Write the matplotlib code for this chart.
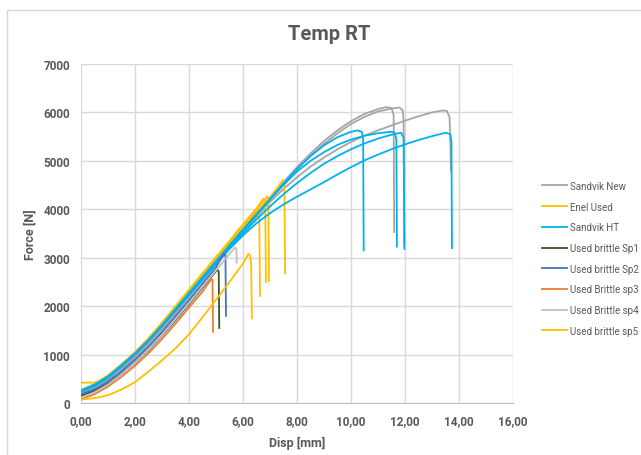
import matplotlib
matplotlib.use('Agg')
import matplotlib.pyplot as plt
from matplotlib.patches import Rectangle
from matplotlib.ticker import FuncFormatter, MultipleLocator

plt.rcParams['font.family'] = ['Roboto', 'DejaVu Sans']

# Disp [mm] / Force [N]
sandvik_new_disp = [
    [0, 0.5, 1, 1.5, 2, 2.5, 3, 3.5, 4, 4.5, 5, 5.5, 6, 6.5, 7, 7.5, 8, 8.5, 9, 9.5,
     10, 10.5, 11, 11.3, 11.5, 11.58, 11.6],
    [0, 0.5, 1, 1.5, 2, 2.5, 3, 3.5, 4, 4.5, 5, 5.5, 6, 6.5, 7, 7.5, 8, 8.5, 9, 9.5,
     10, 10.5, 11, 11.5, 11.8, 11.92, 11.95, 11.97],
    [0, 0.5, 1, 1.5, 2, 2.5, 3, 3.5, 4, 4.5, 5, 5.5, 6, 6.5, 7, 7.5, 8, 8.5, 9, 9.5,
     10, 10.5, 11, 11.5, 12, 12.5, 13, 13.4, 13.55, 13.65, 13.68, 13.7],
]
sandvik_new_force = [
    [200, 310, 470, 690, 940, 1220, 1540, 1870, 2210, 2550, 2890, 3230, 3570, 3900,
     4230, 4560, 4870, 5150, 5410, 5630, 5820, 5970, 6070, 6110, 6090, 5950, 3530],
    [220, 330, 490, 710, 960, 1240, 1550, 1880, 2220, 2560, 2900, 3240, 3570, 3890,
     4210, 4530, 4830, 5100, 5350, 5570, 5760, 5910, 6020, 6080, 6100, 6040, 5800, 3250],
    [180, 290, 450, 670, 920, 1200, 1510, 1840, 2180, 2520, 2860, 3190, 3520, 3840,
     4150, 4420, 4660, 4880, 5070, 5240, 5390, 5520, 5630, 5730, 5830, 5920, 6000,
     6040, 6030, 5900, 5400, 4800],
]

enel_used_disp = [
    [0, 0.45, 0.6, 1, 1.5, 2, 2.5, 3, 3.5, 4, 4.5, 5, 5.5, 6, 6.4, 6.55, 6.6, 6.63],
    [0, 0.5, 1, 1.5, 2, 2.5, 3, 3.5, 4, 4.5, 5, 5.5, 6, 6.5, 6.75, 6.82, 6.85],
    [0, 0.5, 1, 1.5, 2, 2.5, 3, 3.5, 4, 4.5, 5, 5.5, 6, 6.5, 6.75, 6.9, 6.94, 6.96],
    [0, 0.5, 1, 1.5, 2, 2.5, 3, 3.5, 4, 4.5, 5, 5.5, 6, 6.5, 7, 7.3, 7.48, 7.53, 7.56],
]
enel_used_force = [
    [420, 420, 440, 560, 790, 1040, 1320, 1640, 1980, 2320, 2660, 3000, 3330, 3670,
     3930, 4020, 3980, 2210],
    [260, 380, 560, 790, 1040, 1330, 1650, 1990, 2330, 2670, 3010, 3350, 3690, 4020,
     4220, 4200, 2500],
    [270, 390, 570, 800, 1050, 1340, 1660, 2000, 2340, 2680, 3010, 3340, 3660, 3980,
     4160, 4260, 4220, 2520],
    [250, 370, 540, 770, 1020, 1300, 1610, 1940, 2280, 2620, 2960, 3290, 3610, 3940,
     4250, 4460, 4600, 4570, 2680],
]

sandvik_ht_disp = [
    [0, 0.5, 1, 1.5, 2, 2.5, 3, 3.5, 4, 4.5, 5, 5.5, 6, 6.5, 7, 7.5, 8, 8.5, 9, 9.5,
     10, 10.25, 10.4, 10.45, 10.47],
    [0, 0.5, 1, 1.5, 2, 2.5, 3, 3.5, 4, 4.5, 5, 5.5, 6, 6.5, 7, 7.5, 8, 8.5, 9, 9.5,
     10, 10.5, 11, 11.5, 11.62, 11.68, 11.7],
    [0, 0.5, 1, 1.5, 2, 2.5, 3, 3.5, 4, 4.5, 5, 5.5, 6, 6.5, 7, 7.5, 8, 8.5, 9, 9.5,
     10, 10.5, 11, 11.5, 11.85, 11.95, 11.98],
    [0, 0.5, 1, 1.5, 2, 2.5, 3, 3.5, 4, 4.5, 5, 5.5, 6, 6.5, 7, 7.5, 8, 8.5, 9, 9.5,
     10, 10.5, 11, 11.5, 12, 12.5, 13, 13.5, 13.68, 13.72, 13.74],
]
sandvik_ht_force = [
    [250, 370, 540, 770, 1020, 1300, 1610, 1940, 2270, 2600, 2930, 3260, 3580, 3900,
     4210, 4530, 4830, 5100, 5320, 5490, 5600, 5630, 5600, 5450, 3150],
    [240, 360, 530, 760, 1010, 1290, 1600, 1930, 2260, 2590, 2910, 3230, 3560, 3880,
     4200, 4500, 4780, 5000, 5180, 5330, 5440, 5520, 5570, 5600, 5580, 5450, 3230],
    [230, 350, 520, 750, 1000, 1280, 1590, 1920, 2250, 2580, 2890, 3200, 3500, 3790,
     4060, 4310, 4540, 4750, 4940, 5100, 5240, 5360, 5460, 5540, 5580, 5480, 3180],
    [260, 380, 550, 780, 1020, 1290, 1590, 1910, 2230, 2550, 2870, 3180, 3460, 3710,
     3920, 4100, 4260, 4410, 4560, 4720, 4870, 5010, 5130, 5240, 5340, 5430, 5510,
     5580, 5550, 5400, 3200],
]

sp1_disp = [0, 0.5, 1, 1.5, 2, 2.5, 3, 3.5, 4, 4.5, 5, 5.05, 5.1, 5.12]
sp1_force = [150, 250, 400, 600, 830, 1090, 1390, 1710, 2040, 2380, 2720, 2750, 2720, 1550]
sp2_disp = [0, 0.5, 1, 1.5, 2, 2.5, 3, 3.5, 4, 4.5, 5, 5.3, 5.35, 5.37]
sp2_force = [180, 280, 440, 650, 890, 1160, 1460, 1790, 2120, 2460, 2800, 3090, 3060, 1800]
sp3_disp = [0, 0.5, 1, 1.5, 2, 2.5, 3, 3.5, 4, 4.5, 4.83, 4.87, 4.89]
sp3_force = [80, 180, 340, 540, 770, 1030, 1320, 1640, 1970, 2300, 2560, 2540, 1470]
sp4_disp = [0, 0.5, 1, 1.5, 2, 2.5, 3, 3.5, 4, 4.5, 5, 5.5, 5.7, 5.75, 5.77]
sp4_force = [110, 220, 380, 590, 830, 1100, 1400, 1730, 2060, 2400, 2740, 3080, 3210, 3190, 2900]
sp5_disp = [0, 0.5, 1, 1.5, 2, 2.5, 3, 3.5, 4, 4.5, 5, 5.5, 6, 6.2, 6.26, 6.3, 6.33]
sp5_force = [70, 100, 160, 280, 430, 650, 880, 1130, 1420, 1770, 2130, 2500, 2880, 3080,
             3050, 2900, 1750]

series = [
    ('Sandvik New', '#A5A5A5', sandvik_new_disp, sandvik_new_force),
    ('Enel Used', '#FFC000', enel_used_disp, enel_used_force),
    ('Sandvik HT', '#00B0F0', sandvik_ht_disp, sandvik_ht_force),
    ('Used brittle Sp1', '#375623', [sp1_disp], [sp1_force]),
    ('Used brittle Sp2', '#4472C4', [sp2_disp], [sp2_force]),
    ('Used Brittle sp3', '#ED7D31', [sp3_disp], [sp3_force]),
    ('Used Brittle sp4', '#BFBFBF', [sp4_disp], [sp4_force]),
    ('Used brittle sp5', '#FFC000', [sp5_disp], [sp5_force]),
]

W, H = 641, 456
fig = plt.figure(figsize=(W / 100, H / 100), dpi=100)
ax = fig.add_axes([81 / W, 1 - 404 / H, (513 - 81) / W, (404 - 65) / H])

# chart area border
fig.patches.append(Rectangle((7 / W, -0.05), 1.1, 1 - 11 / H + 0.05, transform=fig.transFigure,
                             fill=False, edgecolor='#D9D9D9', linewidth=1))

for label, color, xs, ys in series:
    for i, (x, y) in enumerate(zip(xs, ys)):
        ax.plot(x, y, color=color, lw=1.3, label=label if i == 0 else None,
                solid_joinstyle='round')

ax.set_xlim(0, 16)
ax.set_ylim(0, 7000)
ax.xaxis.set_major_locator(MultipleLocator(2))
ax.yaxis.set_major_locator(MultipleLocator(1000))
ax.xaxis.set_major_formatter(FuncFormatter(lambda v, p: ('%.2f' % v).replace('.', ',')))
ax.grid(True, color='#D9D9D9', lw=1)
ax.set_axisbelow(True)
for s in ['top', 'right', 'left']:
    ax.spines[s].set_visible(False)
ax.spines['bottom'].set_color('#BFBFBF')
ax.tick_params(length=0, labelsize=8.5, labelcolor='#595959', pad=8)
for t in ax.get_xticklabels() + ax.get_yticklabels():
    t.set_fontweight('bold')

ax.set_xlabel('Disp [mm]', fontsize=9, fontweight='bold', color='#595959', labelpad=6)
ax.set_ylabel('Force [N]', fontsize=9, fontweight='bold', color='#595959', labelpad=5)
fig.text(329 / W, 1 - 35 / H, 'Temp RT', fontsize=14.5, fontweight='bold', color='#595959',
         ha='center', va='center')

ax.legend(loc='upper left', bbox_to_anchor=(538 / W, 1 - 178 / H), bbox_transform=fig.transFigure,
          frameon=False, fontsize=7, labelcolor='#595959', handlelength=2.6, handletextpad=0.3,
          labelspacing=1.1, borderaxespad=0)

fig.savefig('out.png', dpi=100)
